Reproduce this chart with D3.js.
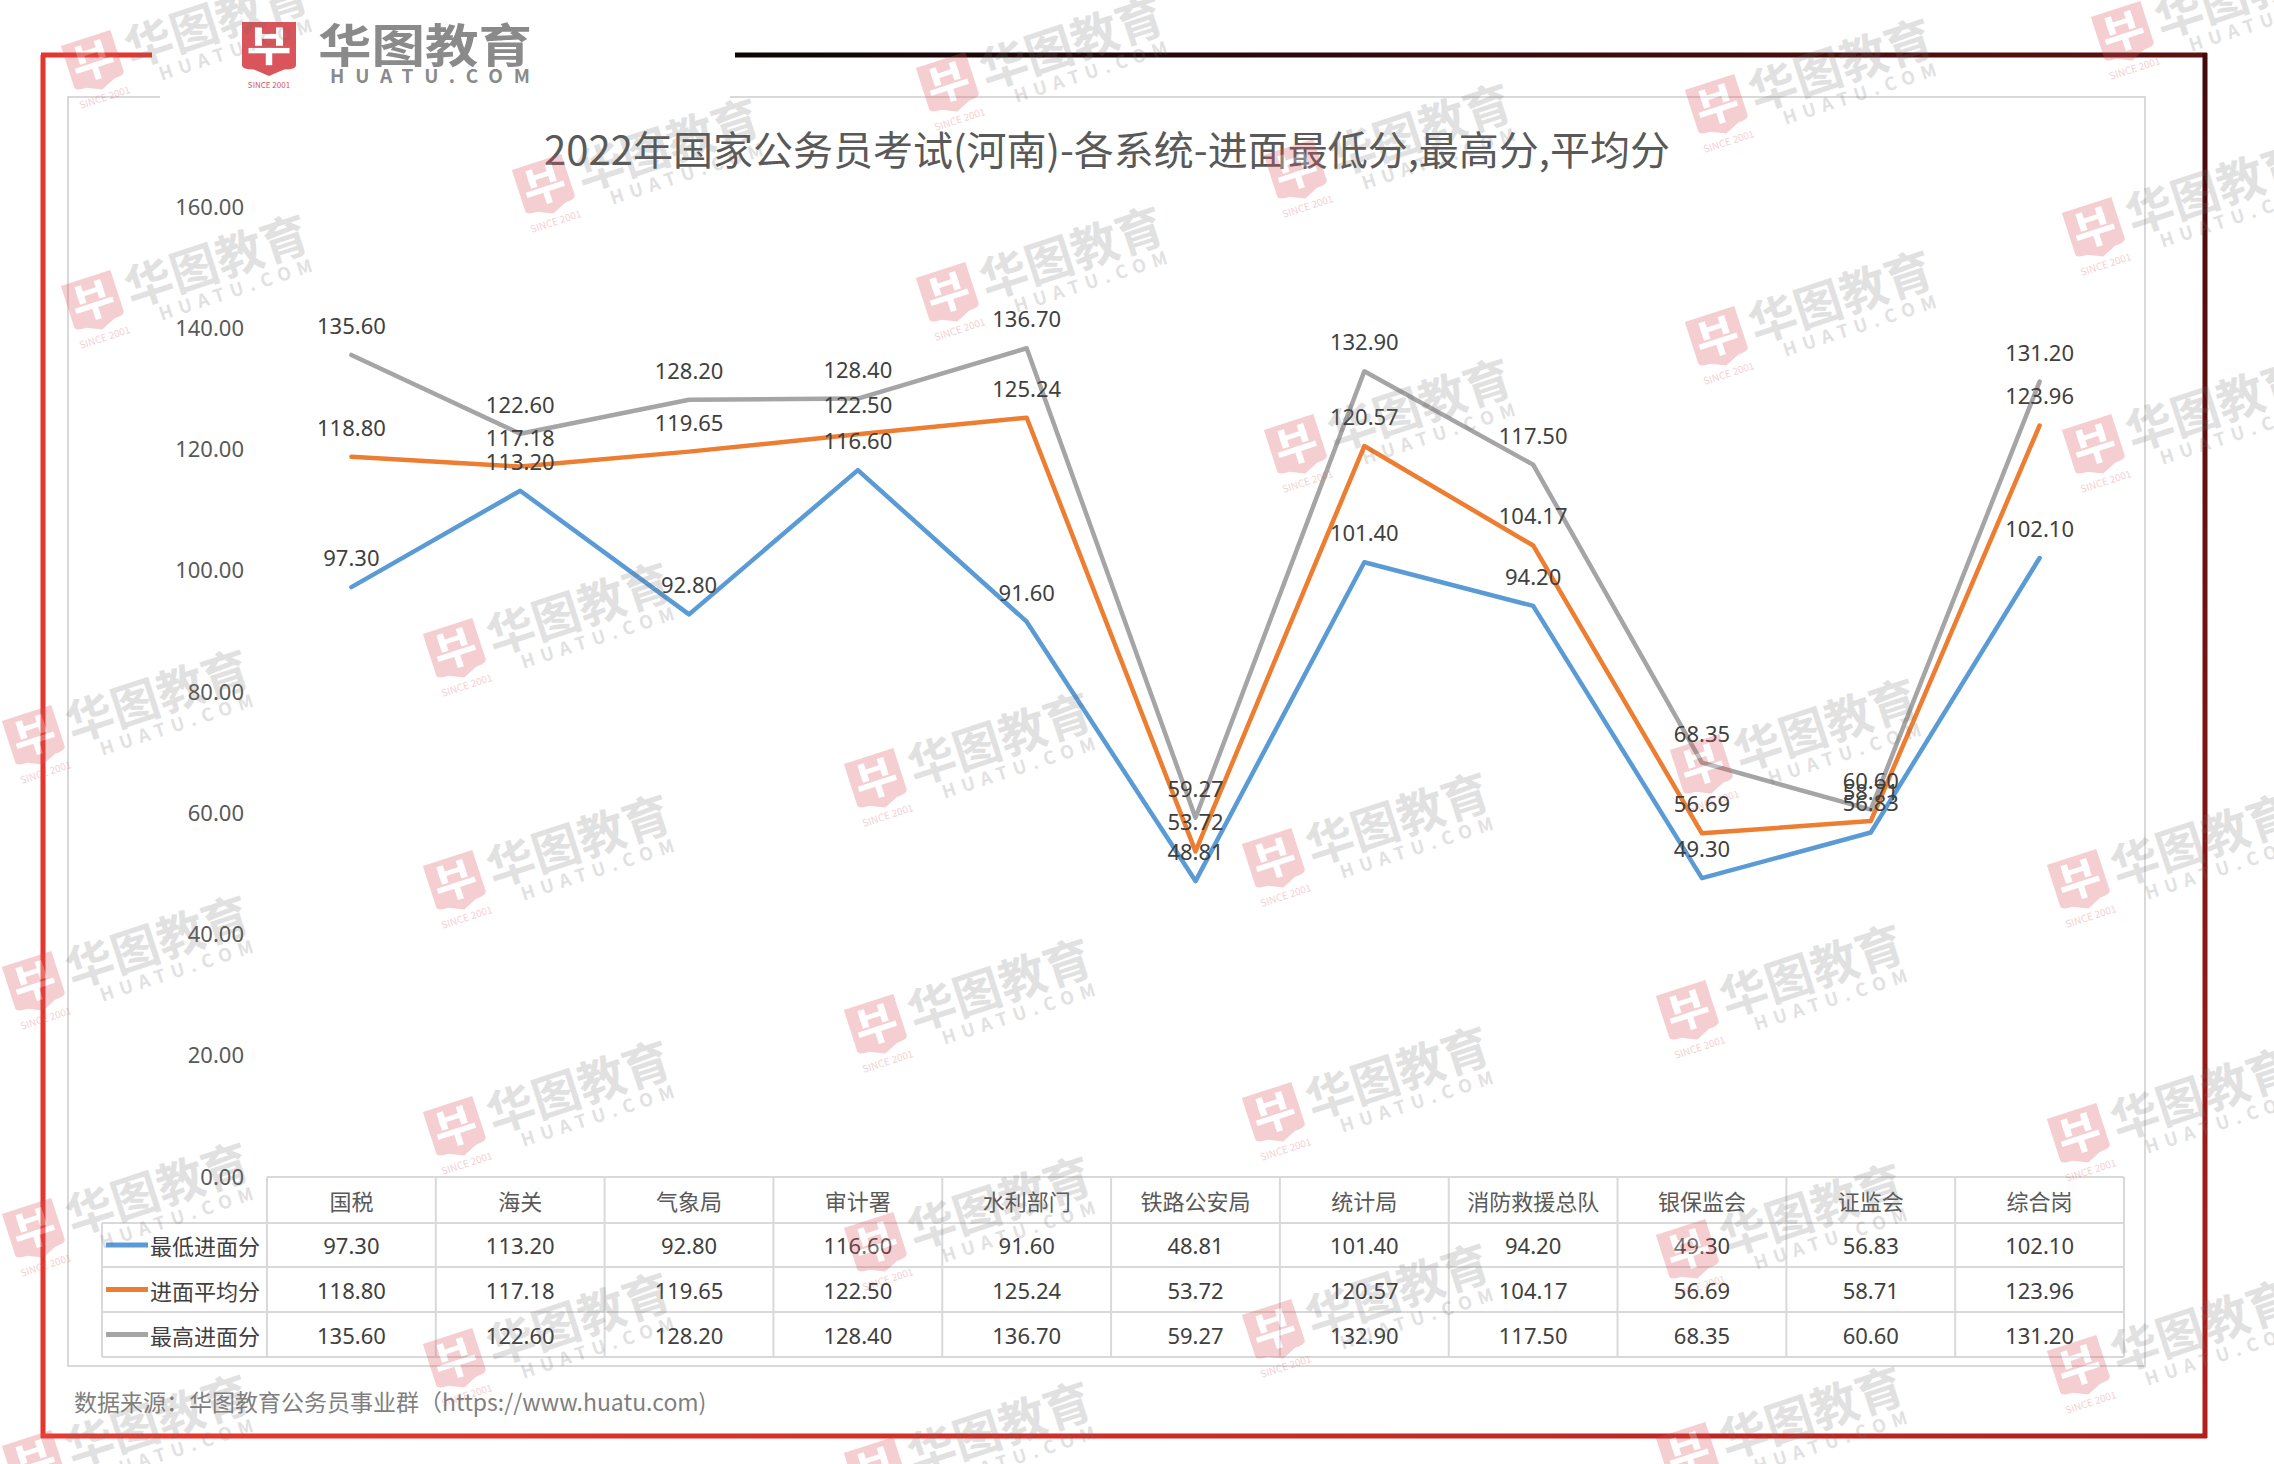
<!DOCTYPE html>
<html>
<head>
<meta charset="utf-8">
<script src="https://cdn.jsdelivr.net/npm/d3@7"></script>
<style>
  html, body { margin: 0; padding: 0; background: #fff; }
  svg text { font-family: "Noto Sans CJK SC", "Noto Sans", sans-serif; }
</style>
</head>
<body>
<div id="chart"></div>
<script>
var categories = ["国税", "海关", "气象局", "审计署", "水利部门", "铁路公安局", "统计局", "消防救援总队", "银保监会", "证监会", "综合岗"]
  , minScores = [97.30, 113.20, 92.80, 116.60, 91.60, 48.81, 101.40, 94.20, 49.30, 56.83, 102.10]
  , avgScores = [118.80, 117.18, 119.65, 122.50, 125.24, 53.72, 120.57, 104.17, 56.69, 58.71, 123.96]
  , maxScores = [135.60, 122.60, 128.20, 128.40, 136.70, 59.27, 132.90, 117.50, 68.35, 60.60, 131.20]
  , seriesNames = ["最低进面分", "进面平均分", "最高进面分"]
  , seriesColors = ["#5b9bd5", "#ed7d31", "#a5a5a5"]
  , yTicks = [0, 20, 40, 60, 80, 100, 120, 140, 160]
  , titleText = "2022年国家公务员考试(河南)-各系统-进面最低分,最高分,平均分"
  , sourceText = "数据来源：华图教育公务员事业群（https://www.huatu.com)"
  // watermark centres
  , watermarks = [
      [189, 36], [1044, 58], [1813, 80], [2219, 7], [640, 160], [1392, 145], [2190, 203],
      [189, 276], [1044, 268], [1813, 312], [2190, 420], [1392, 420],
      [551, 624], [130, 711], [972, 754], [1798, 740], [1370, 834], [2175, 855],
      [551, 856], [130, 957], [972, 1000], [1784, 986], [551, 1102], [1370, 1088],
      [2175, 1109], [130, 1204], [972, 1218], [1784, 1225], [1370, 1305], [551, 1334],
      [2175, 1341], [130, 1436], [972, 1443], [1784, 1428]
    ]
  ;

var W = 2274, H = 1464
  , plotLeft = 267, plotRight = 2124
  , plotTop = 207, plotBottom = 1177
  , rowLines = [1177, 1223, 1267, 1312, 1357]
  , fmt = d3.format(".2f")
  ;

var svg = d3.select("#chart").append("svg")
  .attr("width", W)
  .attr("height", H)
  .attr("viewBox", "0 0 " + W + " " + H);

var defs = svg.append("defs");

function grad(id, x1, y1, x2, y2, c1, c2) {
  var g = defs.append("linearGradient")
    .attr("id", id)
    .attr("gradientUnits", "userSpaceOnUse")
    .attr("x1", x1).attr("y1", y1).attr("x2", x2).attr("y2", y2);
  g.append("stop").attr("offset", 0).attr("stop-color", c1);
  g.append("stop").attr("offset", 1).attr("stop-color", c2);
}

grad("gTop", 735, 0, 2207, 0, "#0d0606", "#5e1111");
grad("gRight", 0, 55, 0, 1436, "#420a0a", "#b3201c");
grad("gBottom", 43, 0, 2207, 0, "#e8392f", "#b3201c");

// outer frame
var frame = svg.append("g").attr("stroke-width", 5).attr("fill", "none");
frame.append("line").attr("x1", 43).attr("y1", 55).attr("x2", 43).attr("y2", 1438).attr("stroke", "#e5352c");
frame.append("line").attr("x1", 41).attr("y1", 55).attr("x2", 152).attr("y2", 55).attr("stroke", "#e5352c");
frame.append("line").attr("x1", 735).attr("y1", 55).attr("x2", 2207).attr("y2", 55).attr("stroke", "url(#gTop)");
frame.append("line").attr("x1", 2205).attr("y1", 53).attr("x2", 2205).attr("y2", 1438).attr("stroke", "url(#gRight)");
frame.append("line").attr("x1", 41).attr("y1", 1436).attr("x2", 2207).attr("y2", 1436).attr("stroke", "url(#gBottom)");

// chart area box
svg.append("rect")
  .attr("x", 68).attr("y", 97)
  .attr("width", 2145 - 68).attr("height", 1366 - 97)
  .attr("fill", "#fff")
  .attr("stroke", "#d9d9d9")
  .attr("stroke-width", 2);

function shieldPath(x, y, w, h) {
  return "M" + x + "," + y + "H" + (x + w) + "V" + (y + h * 0.8) +
    "Q" + (x + w) + "," + (y + h * 0.88) + " " + (x + w * 0.78) + "," + (y + h * 0.88) +
    "L" + (x + w * 0.5) + "," + (y + h) +
    "L" + (x + w * 0.22) + "," + (y + h * 0.88) +
    "Q" + x + "," + (y + h * 0.88) + " " + x + "," + (y + h * 0.8) + "Z";
}

function drawShield(g, x, y, w, h, fill) {
  g.append("path").attr("d", shieldPath(x, y, w, h)).attr("fill", fill);
  var bars = [
    [0.24, 0.1, 0.13, 0.34], [0.63, 0.1, 0.13, 0.34], [0.24, 0.22, 0.52, 0.09],
    [0.12, 0.48, 0.76, 0.1], [0.44, 0.48, 0.12, 0.32]
  ];
  g.selectAll(null).data(bars).enter().append("rect")
    .attr("x", function (d) { return x + d[0] * w; })
    .attr("y", function (d) { return y + d[1] * h; })
    .attr("width", function (d) { return d[2] * w; })
    .attr("height", function (d) { return d[3] * h; })
    .attr("fill", "#fff");
}

// top-left logo
var logo = svg.append("g");
logo.append("rect").attr("x", 160).attr("y", 10).attr("width", 570).attr("height", 90).attr("fill", "#fff");
drawShield(logo, 242, 22, 54, 54, "#d9545b");
logo.append("text").attr("x", 269).attr("y", 88)
  .attr("text-anchor", "middle").attr("font-size", 8).attr("fill", "#d9545b")
  .text("SINCE 2001");
logo.append("text").attr("x", 318).attr("y", 62)
  .attr("font-size", 46).attr("font-weight", "bold").attr("fill", "#8a8a8a")
  .attr("textLength", 214).attr("lengthAdjust", "spacingAndGlyphs")
  .text("华图教育");
logo.append("text").attr("x", 330).attr("y", 83)
  .attr("font-size", 19).attr("font-weight", "bold").attr("fill", "#8a8a8a")
  .attr("textLength", 200).attr("lengthAdjust", "spacing")
  .text("HUATU.COM");

// title
svg.append("text")
  .attr("x", 1107).attr("y", 148)
  .attr("text-anchor", "middle").attr("dominant-baseline", "central")
  .attr("font-size", 40).attr("fill", "#595959")
  .text(titleText);

var x = d3.scaleBand().domain(categories).range([plotLeft, plotRight])
  , y = d3.scaleLinear().domain([0, 160]).range([plotBottom, plotTop])
  , cx = function (d, i) { return x(categories[i]) + x.bandwidth() / 2; }
  ;

// y axis
var yAxis = svg.append("g")
  .attr("transform", "translate(244,0)")
  .call(d3.axisLeft(y).tickValues(yTicks).tickFormat(fmt).tickSize(0).tickPadding(0));
yAxis.select(".domain").remove();
yAxis.selectAll("text")
  .attr("font-size", 22).attr("fill", "#595959")
  .style("font-family", "'Noto Sans', sans-serif");

// lines
var series = [minScores, avgScores, maxScores]
  , line = d3.line().x(cx).y(function (d) { return y(d); })
  ;

svg.selectAll(".series").data(series).enter().append("path")
  .attr("class", "series")
  .attr("d", line)
  .attr("fill", "none")
  .attr("stroke", function (d, i) { return seriesColors[i]; })
  .attr("stroke-width", 4.5)
  .attr("stroke-linejoin", "round")
  .attr("stroke-linecap", "round");

// data labels
series.forEach(function (vals) {
  svg.append("g").selectAll("text").data(vals).enter().append("text")
    .attr("x", cx)
    .attr("y", function (d) { return y(d) - 30; })
    .attr("text-anchor", "middle")
    .attr("dominant-baseline", "central")
    .attr("font-size", 22)
    .attr("fill", "#404040")
    .style("font-family", "'Noto Sans', sans-serif")
    .text(function (d) { return fmt(d); });
});

// data table
var table = svg.append("g").attr("stroke", "#d9d9d9").attr("stroke-width", 2);
table.append("line").attr("x1", plotLeft).attr("x2", plotRight).attr("y1", rowLines[0]).attr("y2", rowLines[0]);
rowLines.slice(1).forEach(function (ry) {
  table.append("line").attr("x1", 102).attr("x2", plotRight).attr("y1", ry).attr("y2", ry);
});
table.append("line").attr("x1", 102).attr("x2", 102).attr("y1", rowLines[1]).attr("y2", rowLines[4]);
d3.range(categories.length + 1).forEach(function (i) {
  var vx = plotLeft + i * x.step();
  table.append("line").attr("x1", vx).attr("x2", vx).attr("y1", rowLines[0]).attr("y2", rowLines[4]);
});

var rowMid = function (r) { return (rowLines[r] + rowLines[r + 1]) / 2; };

svg.append("g").selectAll("text").data(categories).enter().append("text")
  .attr("x", cx)
  .attr("y", rowMid(0))
  .attr("text-anchor", "middle").attr("dominant-baseline", "central")
  .attr("font-size", 22).attr("fill", "#595959")
  .text(function (d) { return d; });

series.forEach(function (vals, s) {
  var g = svg.append("g");
  g.selectAll("text").data(vals).enter().append("text")
    .attr("x", cx)
    .attr("y", rowMid(s + 1))
    .attr("text-anchor", "middle").attr("dominant-baseline", "central")
    .attr("font-size", 22).attr("fill", "#404040")
    .style("font-family", "'Noto Sans', sans-serif")
    .text(function (d) { return fmt(d); });
  g.append("line")
    .attr("x1", 106).attr("x2", 148)
    .attr("y1", rowMid(s + 1)).attr("y2", rowMid(s + 1))
    .attr("stroke", seriesColors[s]).attr("stroke-width", 5);
  g.append("text")
    .attr("x", 150).attr("y", rowMid(s + 1))
    .attr("dominant-baseline", "central")
    .attr("font-size", 22).attr("fill", "#404040")
    .text(seriesNames[s]);
});

// source
svg.append("text")
  .attr("x", 74).attr("y", 1401)
  .attr("dominant-baseline", "central")
  .attr("font-size", 23).attr("fill", "#7f7f7f")
  .text(sourceText);

// watermarks
var wm = svg.append("g").attr("pointer-events", "none");
watermarks.forEach(function (p) {
  var g = wm.append("g")
    .attr("transform", "translate(" + p[0] + "," + p[1] + ") rotate(-18)");
  var sg = g.append("g").attr("opacity", 0.28);
  drawShield(sg, -125, -30, 52, 54, "#d9545b");
  sg.append("text").attr("x", -99).attr("y", 36)
    .attr("text-anchor", "middle").attr("font-size", 10).attr("fill", "#d9545b")
    .text("SINCE 2001");
  var tg = g.append("g").attr("opacity", 0.2).attr("fill", "#6e6e6e");
  tg.append("text").attr("x", -64).attr("y", 12)
    .attr("font-size", 48).attr("font-weight", "bold")
    .attr("textLength", 190).attr("lengthAdjust", "spacingAndGlyphs")
    .text("华图教育");
  tg.append("text").attr("x", -40).attr("y", 34)
    .attr("font-size", 18).attr("font-weight", "bold")
    .attr("textLength", 160).attr("lengthAdjust", "spacing")
    .text("HUATU.COM");
});
</script>
</body>
</html>
